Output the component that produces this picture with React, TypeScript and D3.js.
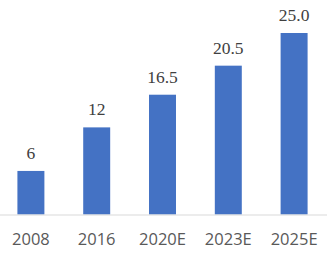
import React from "react";
import * as d3 from "d3";

const categories: string[] = ["2008", "2016", "2020E", "2023E", "2025E"];
const values: number[] = [6, 12, 16.5, 20.5, 25.0];
const valueLabels: string[] = ["6", "12", "16.5", "20.5", "25.0"];

const W = 330;
const H = 254;

export default function App() {
  const x = d3
    .scaleBand<string>()
    .domain(categories)
    .range([-2, 327])
    .paddingInner(0.59)
    .paddingOuter(0.295);
  const y = d3.scaleLinear().domain([0, 25]).range([214.5, 33]);
  const base = y(0);

  return (
    <svg
      width={W}
      height={H}
      style={{ position: "fixed", left: 0, top: 0, background: "#fff" }}
    >
      <rect x={0} y={0} width={W} height={H} fill="#fff" />
      {categories.map((c, i) => (
        <rect
          key={c}
          x={x(c)!}
          y={y(values[i])}
          width={x.bandwidth()}
          height={base - y(values[i])}
          fill="#4472C4"
        />
      ))}
      <line x1={0} x2={327} y1={base + 0.5} y2={base + 0.5} stroke="#d9d9d9" strokeWidth={1.2} />
      {categories.map((c, i) => (
        <text
          key={"v" + c}
          x={x(c)! + x.bandwidth() / 2}
          y={y(values[i]) - 12}
          textAnchor="middle"
          style={{ fontFamily: "'Liberation Serif', 'DejaVu Serif', serif", fontSize: "17.5px" }}
          fill="#404040"
        >
          {valueLabels[i]}
        </text>
      ))}
      {categories.map((c) => (
        <text
          key={"c" + c}
          x={x(c)! + x.bandwidth() / 2}
          y={245}
          textAnchor="middle"
          style={{ fontFamily: "'Open Sans', 'Liberation Sans', sans-serif", fontSize: "16.5px" }}
          fill="#595959"
        >
          {c}
        </text>
      ))}
    </svg>
  );
}
